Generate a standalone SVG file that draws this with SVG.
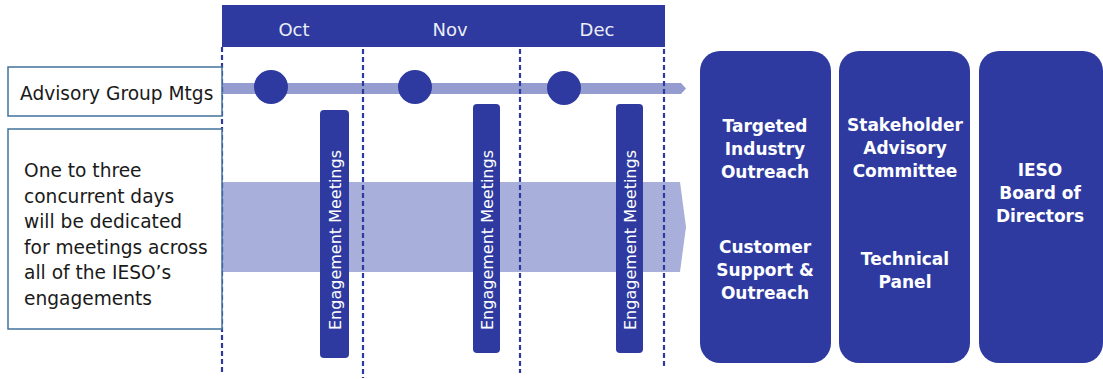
<svg xmlns="http://www.w3.org/2000/svg" width="1103" height="379" viewBox="0 0 1103 379">
<style>
.dash{stroke:#2e3a9f;stroke-width:2.2;stroke-dasharray:5 3;fill:none}
.dk{fill:#2e3a9f}
.month{font-family:"DejaVu Sans",sans-serif;font-size:18px;fill:#eceef8;text-anchor:middle}
.lbl{font-family:"DejaVu Sans",sans-serif;font-size:18.6px;fill:#1a1a1a}
.box{fill:#fff;stroke:#41719c;stroke-width:1.5}
.em{font-family:"DejaVu Sans",sans-serif;font-size:16px;fill:#fff;text-anchor:middle}
.bt{font-family:"DejaVu Sans",sans-serif;font-size:17px;font-weight:bold;fill:#fff;text-anchor:middle}
</style>
<rect width="1103" height="379" fill="#fff"/>
<g id="header">
<rect class="dk" x="222" y="5" width="443" height="42"/>
<text class="month" x="294" y="36">Oct</text>
<text class="month" x="450" y="36">Nov</text>
<text class="month" x="597" y="36">Dec</text>
</g>
<g id="bands">
<path d="M222,182 L680,182 L686,227 L680,272 L222,272 Z" fill="#a9afdb"/>
<path d="M222,83 L681,83 L686,88.5 L681,94 L222,94 Z" fill="#959ccf"/>
</g>
<g id="connectors">
<line class="dash" x1="222" y1="47" x2="222" y2="372"/>
<line class="dash" x1="363" y1="49" x2="363" y2="378"/>
<line class="dash" x1="520" y1="49" x2="520" y2="373"/>
<line class="dash" x1="664" y1="49" x2="664" y2="368"/>
</g>
<g id="advisory-label">
<rect class="box" x="8" y="67" width="214" height="49"/>
<text class="lbl" x="20" y="100">Advisory Group Mtgs</text>
</g>
<g id="engagement-label">
<rect class="box" x="8" y="129" width="214" height="200"/>
<text class="lbl" x="24"><tspan x="24" y="177">One to three</tspan><tspan x="24" y="202.5">concurrent days</tspan><tspan x="24" y="228">will be dedicated</tspan><tspan x="24" y="253.5">for meetings across</tspan><tspan x="24" y="279">all of the IESO’s</tspan><tspan x="24" y="304.5">engagements</tspan></text>
</g>
<g id="mtg-oct"><circle class="dk" cx="271" cy="87" r="17"/></g>
<g id="mtg-nov"><circle class="dk" cx="415" cy="87" r="17"/></g>
<g id="mtg-dec"><circle class="dk" cx="564" cy="88" r="17"/></g>
<g id="em-oct">
<rect class="dk" x="320" y="110" width="29" height="248" rx="4"/>
<text class="em" transform="translate(335,240) rotate(-90)" y="6">Engagement Meetings</text>
</g>
<g id="em-nov">
<rect class="dk" x="473" y="104" width="27" height="249" rx="4"/>
<text class="em" transform="translate(487,240) rotate(-90)" y="6">Engagement Meetings</text>
</g>
<g id="em-dec">
<rect class="dk" x="616" y="104" width="27" height="249" rx="4"/>
<text class="em" transform="translate(630,240) rotate(-90)" y="6">Engagement Meetings</text>
</g>
<g id="box-outreach">
<rect class="dk" x="700" y="51" width="131" height="312" rx="20"/>
<text class="bt"><tspan x="765" y="132">Targeted</tspan><tspan x="765" y="155">Industry</tspan><tspan x="765" y="178">Outreach</tspan></text>
<text class="bt"><tspan x="765" y="253">Customer</tspan><tspan x="765" y="276">Support &amp;</tspan><tspan x="765" y="299">Outreach</tspan></text>
</g>
<g id="box-committees">
<rect class="dk" x="839" y="51" width="131" height="312" rx="20"/>
<text class="bt"><tspan x="905" y="131">Stakeholder</tspan><tspan x="905" y="154">Advisory</tspan><tspan x="905" y="177">Committee</tspan></text>
<text class="bt"><tspan x="905" y="265">Technical</tspan><tspan x="905" y="288">Panel</tspan></text>
</g>
<g id="box-board">
<rect class="dk" x="979" y="51" width="124" height="312" rx="20"/>
<text class="bt"><tspan x="1040" y="176">IESO</tspan><tspan x="1040" y="199">Board of</tspan><tspan x="1040" y="222">Directors</tspan></text>
</g>
</svg>
